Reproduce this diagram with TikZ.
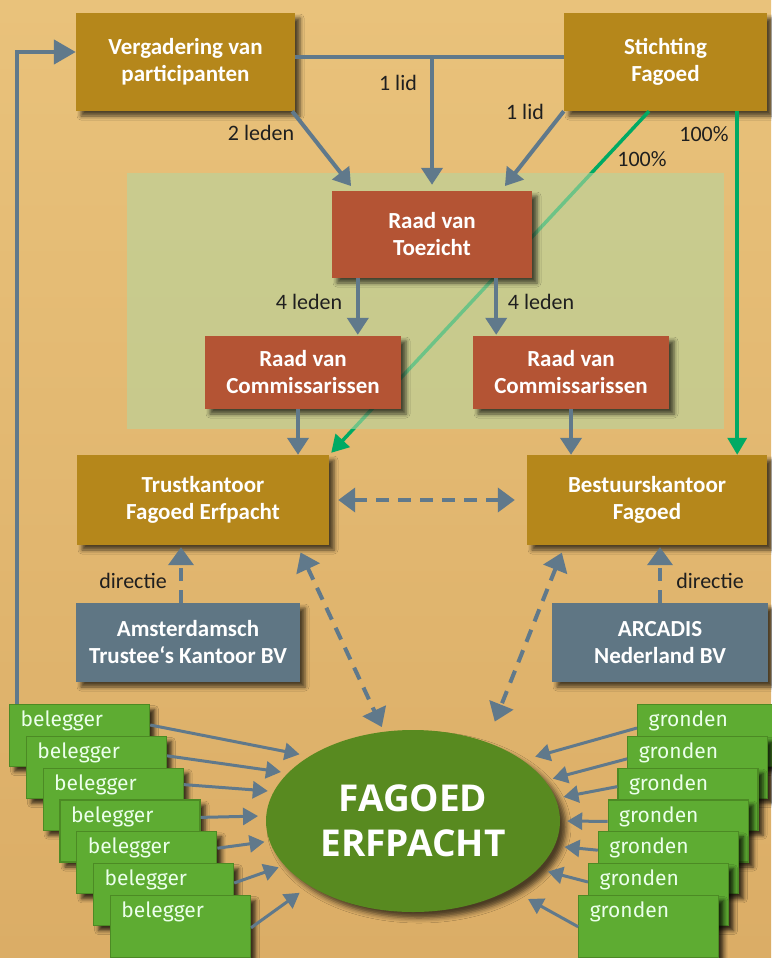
\documentclass[tikz,border=0pt]{standalone}
\usepackage{fontspec}
\setmainfont{Carlito}
\newfontfamily\firafont{Fira Sans}
\newfontfamily\openfont{Open Sans}
\usetikzlibrary{arrows.meta,shapes.geometric,shadows.blur}
\definecolor{sandtop}{RGB}{233,194,123}
\definecolor{sandbottom}{RGB}{219,173,102}
\definecolor{boxgold}{RGB}{181,135,27}
\definecolor{brick}{RGB}{180,84,52}
\definecolor{slate}{RGB}{95,118,132}
\definecolor{linkgrey}{RGB}{96,121,139}
\definecolor{leafgreen}{RGB}{94,172,50}
\definecolor{leafdark}{RGB}{76,138,36}
\definecolor{fagoedgreen}{RGB}{88,138,32}
\definecolor{mintgreen}{RGB}{0,170,100}
\definecolor{panelgreen}{RGB}{182,213,158}

\begin{document}
\begin{tikzpicture}[x=1pt, y=-1pt,
    orgbox/.style={fill=#1, text=white, align=center, inner sep=0pt,
      font=\bfseries\fontsize{23}{27}\selectfont,
      blur shadow={shadow xshift=5pt, shadow yshift=-5pt,
        shadow blur radius=4pt, shadow opacity=65}},
    belbox/.style={fill=leafgreen, draw=leafdark, line width=1.2pt,
      text=white!92!green, font=\firafont\fontsize{21}{24}\selectfont,
      text width=118pt, align=left, inner xsep=11pt, inner ysep=7pt,
      text height=15pt, text depth=33pt, anchor=north west,
      blur shadow={shadow xshift=5pt, shadow yshift=-5pt,
        shadow blur radius=4pt, shadow opacity=75}},
    link/.style={draw=linkgrey, line width=4pt,
      -{Triangle[length=17pt,width=21pt]}},
    dlink/.style={link, dash pattern=on 13pt off 9pt},
    thinlink/.style={draw=linkgrey, line width=3pt,
      -{Triangle[length=15pt,width=17pt]}},
    greenlink/.style={draw=mintgreen, line width=3.5pt,
      -{Triangle[length=17pt,width=19pt]}},
    lbl/.style={text=black!88, font=\fontsize{22}{24}\selectfont}]
  \useasboundingbox (0,0) rectangle (771,958);

  % Background
  \shade[top color=sandtop, bottom color=sandbottom] (0,0) rectangle (771,958);

  % Ownership lines (100%)
  \node[orgbox=boxgold, minimum width=203pt, minimum height=98pt]
    (stichting) at (665.5,62) {Stichting\\Fagoed};
  \node[orgbox=boxgold, minimum width=252pt, minimum height=90pt]
    (trust) at (203,500) {Trustkantoor\\Fagoed Erfpacht};
  \node[orgbox=boxgold, minimum width=240pt, minimum height=90pt]
    (bestuur) at (647,500) {Bestuurskantoor\\Fagoed};
  \draw[greenlink] ([xshift=-16.5pt]stichting.south) -- ([xshift=2pt,yshift=2pt]trust.north east);
  \draw[greenlink] ([xshift=-30pt]stichting.south east) -- ([xshift=-30pt]bestuur.north east);
  \node[lbl] (pct1) at (704,134) {100\%};
  \node[lbl] (pct2) at (642,159) {100\%};

  % Supervision panel
  \fill[panelgreen, opacity=0.6] (127,173) rectangle (724,429);

  % Boards
  \node[orgbox=boxgold, minimum width=219pt, minimum height=98pt]
    (verg) at (185.5,62) {Vergadering van\\participanten};
  \node[orgbox=brick, minimum width=200pt, minimum height=87pt]
    (rvt) at (432,234.5) {Raad van\\Toezicht};
  \node[orgbox=brick, minimum width=196pt, minimum height=73pt]
    (rvcl) at (303,372.5) {Raad van\\Commissarissen};
  \node[orgbox=brick, minimum width=196pt, minimum height=73pt]
    (rvcr) at (571,372.5) {Raad van\\Commissarissen};
  \node[orgbox=slate, minimum width=224pt, minimum height=79pt]
    (atk) at (188,642.5) {Amsterdamsch\\Trustee‘s Kantoor BV};
  \node[orgbox=slate, minimum width=216pt, minimum height=79pt]
    (arcadis) at (660,642.5) {ARCADIS\\Nederland BV};

  % Appointments
  \coordinate (tee) at ([yshift=5pt]verg.east -| rvt.north);
  \draw[linkgrey, line width=4pt] ([yshift=5pt]verg.east) -- ([yshift=5pt]stichting.west);
  \draw[link, shorten >=6pt] (tee) -- (rvt.north);
  \draw[link, shorten >=6pt] ([xshift=-3pt]verg.south east) -- ([xshift=23pt]rvt.north west);
  \draw[link, shorten >=6pt] (stichting.south west) -- ([xshift=-31pt]rvt.north east);
  \node[lbl] (lid1) at (398,83) {1 lid};
  \node[lbl] (lid2) at (525,112) {1 lid};
  \node[lbl] (leden2) at (261,133) {2 leden};

  \draw[link, shorten >=1pt] ([xshift=26pt]rvt.south west) -- ([xshift=26pt]rvt.south west |- rvcl.north);
  \draw[link, shorten >=1pt] ([xshift=-36pt]rvt.south east) -- ([xshift=-36pt]rvt.south east |- rvcr.north);
  \node[lbl] (leden4l) at (309,302) {4 leden};
  \node[lbl] (leden4r) at (541,302) {4 leden};

  \draw[link] ([xshift=-5pt]rvcl.south) -- ([xshift=-5pt]rvcl.south |- trust.north);
  \draw[link] (rvcr.south) -- (rvcr.south |- bestuur.north);

  % Management
  \draw[dlink, {Triangle[length=17pt,width=24pt]}-{Triangle[length=17pt,width=24pt]},
    shorten <=9pt, shorten >=12pt] (trust.east) -- (bestuur.west);
  \draw[dlink, -{Triangle[length=18pt,width=25pt]}, shorten >=2pt]
    ([xshift=-7pt]atk.north) -- ([xshift=-7pt]atk.north |- trust.south);
  \draw[dlink, -{Triangle[length=18pt,width=25pt]}, shorten >=2pt]
    (arcadis.north) -- (arcadis.north |- bestuur.south);
  \node[lbl] (dir1) at (133,581) {directie};
  \node[lbl] (dir2) at (710,581) {directie};

  % Fund
  \node[ellipse, fill=fagoedgreen, minimum width=294pt, minimum height=182pt,
    inner sep=0pt, text=white, align=center,
    font=\openfont\bfseries\fontsize{37}{45}\selectfont,
    blur shadow={shadow xshift=6pt, shadow yshift=-6pt,
      shadow blur radius=5pt, shadow opacity=65}]
    (fagoed) at (413,821) {FAGOED\\ERFPACHT};
  \draw[dlink, {Triangle[length=18pt,width=25pt]}-{Triangle[length=18pt,width=25pt]},
    shorten <=8pt, shorten >=5pt] ([xshift=-32pt]trust.south east) -- (fagoed.108);
  \draw[dlink, {Triangle[length=18pt,width=25pt]}-{Triangle[length=18pt,width=25pt]},
    shorten <=8pt, shorten >=22pt] ([xshift=38pt]bestuur.south west) -- (fagoed.47);

  % Investors and land
  \foreach \i in {1,...,7}{
    \node[belbox] (bel\i) at ({9+16.8*(\i-1)},{704+31.8*(\i-1)}) {belegger};
  }
  \foreach \i in {1,...,7}{
    \node[belbox] (gr\i) at ({637-9.8*(\i-1)},{704+31.8*(\i-1)}) {gronden};
  }
  \foreach \i/\dy/\ang/\gap in {1/21/148.6/10, 2/20/159.8/7, 3/17/168.8/6,
      4/18/178.9/8, 5/17/188.5/5, 6/20/199.5/6, 7/33/212.5/12}{
    \draw[thinlink, shorten >=\gap pt] ([yshift=-\dy pt]bel\i.north east) -- (fagoed.\ang);
  }
  \foreach \i/\dy/\ang/\gap in {1/24/29.5/13, 2/23/17.6/8, 3/19/9.9/8,
      4/22/0/7, 5/19/350.7/10, 6/19/339.3/10, 7/32/325.5/20}{
    \draw[thinlink, shorten >=\gap pt] ([yshift=-\dy pt]gr\i.north west) -- (fagoed.\ang);
  }

  % Participation loop
  \draw[link, line width=4.5pt, -{Triangle[length=22pt,width=24pt]}]
    ([xshift=8pt]bel1.north west) |- ([yshift=10pt]verg.west);
\end{tikzpicture}
\end{document}
